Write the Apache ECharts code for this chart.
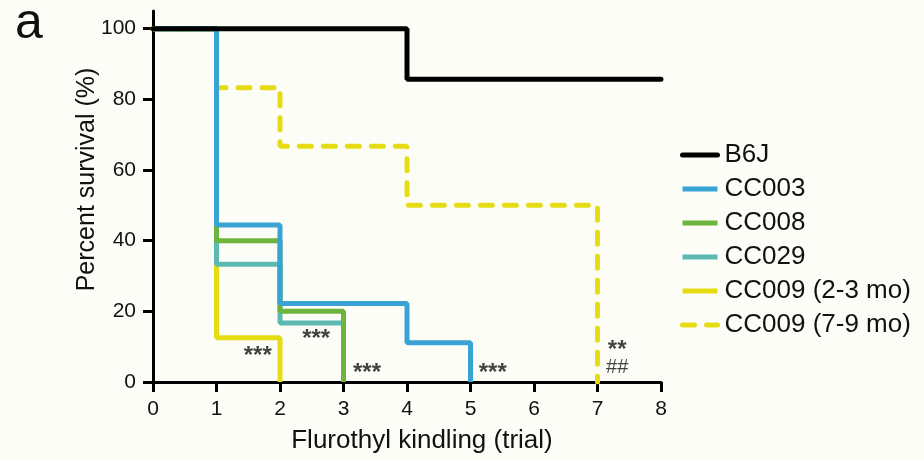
<!DOCTYPE html>
<html>
<head>
<meta charset="utf-8">
<script src="https://cdn.jsdelivr.net/npm/echarts@6/dist/echarts.min.js"></script>
<style>
  html, body { margin: 0; padding: 0; background: #fdfdf8; }
  #chart { width: 924px; height: 459px; }
</style>
</head>
<body>
<div id="chart"></div>
<script>
// survival curves: [trial, percent survival], drawn as steps
var b6j      = [[0, 100], [4, 85.7], [8, 85.7]];
var cc003    = [[0, 100], [1, 44.4], [2, 22.2], [4, 11.1], [5, 0]];
var cc008    = [[0, 100], [1, 40], [2, 20], [3, 0]];
var cc029    = [[0, 100], [1, 33.3], [2, 16.7], [3, 0]];
var cc009Young = [[0, 100], [1, 12.5], [2, 0]];
var cc009Old   = [[0, 100], [1, 83.3], [2, 66.7], [4, 50], [7, 0]];

var xTicks = [0, 1, 2, 3, 4, 5, 6, 7, 8];
var yTicks = [0, 20, 40, 60, 80, 100];

// significance marks, in data coordinates
var marks = [
  [1.65, 7.3, '***'],
  [2.57, 12.1, '***'],
  [3.37, 2.3, '***'],
  [5.35, 2.3, '***'],
  [7.31, 9.0, '**'],
  [7.31, 4.0, '##']
];

var legendNames = ['B6J', 'CC003', 'CC008', 'CC029', 'CC009 (2-3 mo)', 'CC009 (7-9 mo)'];

var font = 'Liberation Sans, Arial, sans-serif';
var chart = echarts.init(document.getElementById('chart'));

function stepSeries(name, data, color, dashed) {
  return {
    name: name,
    type: 'line',
    step: 'end',
    data: data,
    showSymbol: false,
    symbol: 'none',
    animation: false,
    lineStyle: {
      color: color,
      width: 5,
      type: dashed ? [12, 12] : 'solid',
      cap: (dashed || color === '#000000') ? 'round' : 'butt'
    },
    itemStyle: { color: color }
  };
}

var option = {
  backgroundColor: '#fdfdf8',
  title: {
    text: 'a',
    left: 10,
    top: -6,
    textStyle: { fontFamily: font, fontSize: 50, fontWeight: 'normal', color: '#111' }
  },
  legend: {
    data: legendNames,
    orient: 'vertical',
    left: 680,
    top: 142,
    padding: 0,
    itemWidth: 35,
    itemHeight: 14,
    itemGap: 8,
    itemStyle: { opacity: 0 },
    lineStyle: { width: 5 },
    textStyle: { fontFamily: font, fontSize: 26, color: '#111', padding: [0, 0, 0, 2] }
  },
  grid: { left: 153, right: 263, top: 11, bottom: 76, containLabel: false },
  xAxis: {
    type: 'value',
    min: 0,
    max: 8,
    interval: 1,
    name: 'Flurothyl kindling (trial)',
    nameLocation: 'middle',
    nameGap: 46,
    nameMoveOverlap: false,
    nameTextStyle: { fontFamily: font, fontSize: 26, color: '#111', padding: [0, 0, 0, 30] },
    splitLine: { show: false },
    axisLine: { lineStyle: { color: '#000', width: 3 } },
    axisTick: { length: 10, lineStyle: { color: '#000', width: 3 }, customValues: xTicks },
    axisLabel: { fontFamily: font, fontSize: 21, color: '#111', margin: 17, customValues: xTicks }
  },
  yAxis: {
    type: 'value',
    min: 0,
    max: 105,
    name: 'Percent survival (%)',
    nameLocation: 'middle',
    nameGap: 53,
    nameMoveOverlap: false,
    nameTextStyle: { fontFamily: font, fontSize: 25, color: '#111', padding: [0, 0, 0, 34] },
    splitLine: { show: false },
    axisLine: { onZero: false, lineStyle: { color: '#000', width: 3 } },
    axisTick: { length: 10, lineStyle: { color: '#000', width: 3 }, customValues: yTicks },
    axisLabel: { fontFamily: font, fontSize: 21, color: '#111', margin: 17, customValues: yTicks }
  },
  series: [
    stepSeries('CC009 (7-9 mo)', cc009Old, '#e6dc14', true),
    stepSeries('CC009 (2-3 mo)', cc009Young, '#e6dc14', false),
    stepSeries('CC029', cc029, '#5cbab2', false),
    stepSeries('CC008', cc008, '#6db43c', false),
    stepSeries('CC003', cc003, '#3aa3d5', false),
    stepSeries('B6J', b6j, '#000000', false),
    {
      type: 'scatter',
      data: marks.map(function (m) {
        var isHash = m[2].indexOf('#') >= 0;
        return {
          value: [m[0], m[1]],
          name: m[2],
          label: { fontSize: isHash ? 20 : 24, fontWeight: isHash ? 'normal' : 'bold' }
        };
      }),
      symbolSize: 0,
      silent: true,
      animation: false,
      label: {
        show: true,
        position: 'inside',
        formatter: function (p) { return p.name; },
        fontFamily: font,
        color: '#111'
      }
    }
  ]
};

chart.setOption(option);
</script>
</body>
</html>
